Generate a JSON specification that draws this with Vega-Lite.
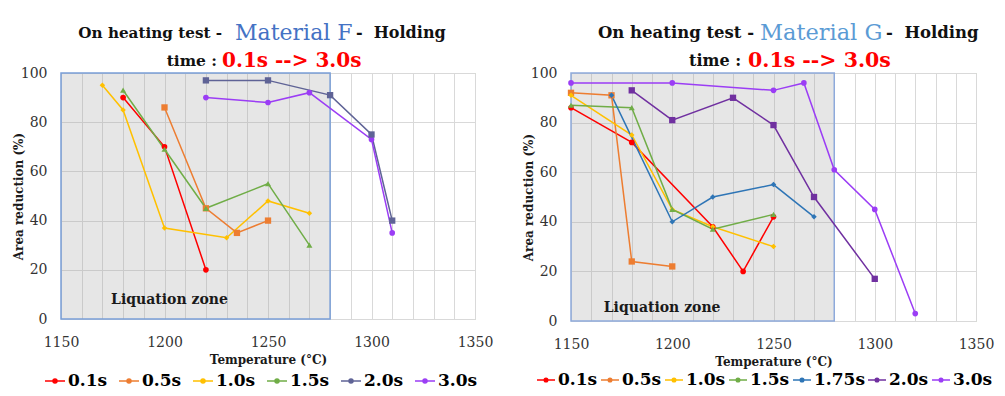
{
  "$schema": "https://vega.github.io/schema/vega-lite/v6.json",
  "background": "white",
  "padding": {"left": 11, "top": 21, "right": 0, "bottom": 0},
  "spacing": 96,
  "bounds": "flush",
  "config": {
    "font": "DejaVu Serif",
    "view": {"stroke": "#C5DEB5", "strokeWidth": 1},
    "axis": {"gridColor": "#D9D9D9", "gridWidth": 1, "domain": false, "ticks": false, "labelOverlap": false, "labelFlush": false, "labelFont": "DejaVu Serif", "labelFontSize": 14, "labelColor": "#333333", "titleFont": "DejaVu Serif", "titleFontSize": 12, "titleFontWeight": "bold", "titleColor": "#1a1a1a"},
    "legend": {"orient": "none", "direction": "horizontal", "title": null, "symbolSize": 400, "symbolStrokeWidth": 1.5, "labelFont": "DejaVu Serif", "labelFontSize": 17, "labelFontWeight": "bold", "labelColor": "black", "labelOffset": 2, "columnPadding": 8}
  },
  "datasets": {
    "F": [
      {"t": 1180, "ar": 90, "hold": "0.1s"}, {"t": 1200, "ar": 70, "hold": "0.1s"}, {"t": 1220, "ar": 20, "hold": "0.1s"},
      {"t": 1200, "ar": 86, "hold": "0.5s"}, {"t": 1220, "ar": 45, "hold": "0.5s"}, {"t": 1235, "ar": 35, "hold": "0.5s"}, {"t": 1250, "ar": 40, "hold": "0.5s"},
      {"t": 1170, "ar": 95, "hold": "1.0s"}, {"t": 1180, "ar": 85, "hold": "1.0s"}, {"t": 1200, "ar": 37, "hold": "1.0s"}, {"t": 1230, "ar": 33, "hold": "1.0s"}, {"t": 1250, "ar": 48, "hold": "1.0s"}, {"t": 1270, "ar": 43, "hold": "1.0s"},
      {"t": 1180, "ar": 93, "hold": "1.5s"}, {"t": 1200, "ar": 69, "hold": "1.5s"}, {"t": 1220, "ar": 45, "hold": "1.5s"}, {"t": 1250, "ar": 55, "hold": "1.5s"}, {"t": 1270, "ar": 30, "hold": "1.5s"},
      {"t": 1220, "ar": 97, "hold": "2.0s"}, {"t": 1250, "ar": 97, "hold": "2.0s"}, {"t": 1280, "ar": 91, "hold": "2.0s"}, {"t": 1300, "ar": 75, "hold": "2.0s"}, {"t": 1310, "ar": 40, "hold": "2.0s"},
      {"t": 1220, "ar": 90, "hold": "3.0s"}, {"t": 1250, "ar": 88, "hold": "3.0s"}, {"t": 1270, "ar": 92, "hold": "3.0s"}, {"t": 1300, "ar": 73, "hold": "3.0s"}, {"t": 1310, "ar": 35, "hold": "3.0s"}
    ],
    "G": [
      {"t": 1150, "ar": 86, "hold": "0.1s"}, {"t": 1180, "ar": 72, "hold": "0.1s"}, {"t": 1220, "ar": 38, "hold": "0.1s"}, {"t": 1235, "ar": 20, "hold": "0.1s"}, {"t": 1250, "ar": 42, "hold": "0.1s"},
      {"t": 1150, "ar": 92, "hold": "0.5s"}, {"t": 1170, "ar": 91, "hold": "0.5s"}, {"t": 1180, "ar": 24, "hold": "0.5s"}, {"t": 1200, "ar": 22, "hold": "0.5s"},
      {"t": 1150, "ar": 91, "hold": "1.0s"}, {"t": 1180, "ar": 75, "hold": "1.0s"}, {"t": 1200, "ar": 45, "hold": "1.0s"}, {"t": 1220, "ar": 38, "hold": "1.0s"}, {"t": 1250, "ar": 30, "hold": "1.0s"},
      {"t": 1150, "ar": 87, "hold": "1.5s"}, {"t": 1180, "ar": 86, "hold": "1.5s"}, {"t": 1200, "ar": 45, "hold": "1.5s"}, {"t": 1220, "ar": 37, "hold": "1.5s"}, {"t": 1250, "ar": 43, "hold": "1.5s"},
      {"t": 1170, "ar": 91, "hold": "1.75s"}, {"t": 1200, "ar": 40, "hold": "1.75s"}, {"t": 1220, "ar": 50, "hold": "1.75s"}, {"t": 1250, "ar": 55, "hold": "1.75s"}, {"t": 1270, "ar": 42, "hold": "1.75s"},
      {"t": 1180, "ar": 93, "hold": "2.0s"}, {"t": 1200, "ar": 81, "hold": "2.0s"}, {"t": 1230, "ar": 90, "hold": "2.0s"}, {"t": 1250, "ar": 79, "hold": "2.0s"}, {"t": 1270, "ar": 50, "hold": "2.0s"}, {"t": 1300, "ar": 17, "hold": "2.0s"},
      {"t": 1150, "ar": 96, "hold": "3.0s"}, {"t": 1200, "ar": 96, "hold": "3.0s"}, {"t": 1250, "ar": 93, "hold": "3.0s"}, {"t": 1265, "ar": 96, "hold": "3.0s"}, {"t": 1280, "ar": 61, "hold": "3.0s"}, {"t": 1300, "ar": 45, "hold": "3.0s"}, {"t": 1320, "ar": 3, "hold": "3.0s"}
    ]
  },
  "hconcat": [
    {
      "width": 414,
      "height": 246,
      "data": {"name": "F"},
      "resolve": {"axis": {"x": "independent"}},
      "layer": [
        {
          "data": {"values": [{}]},
          "mark": {"type": "rect", "fill": "#A6A6A6", "fillOpacity": 0.28, "stroke": "#7A9FD8", "strokeWidth": 1.5, "strokeOpacity": 1},
          "encoding": {
            "x": {"datum": 1150, "type": "quantitative", "axis": {"orient": "bottom", "values": [1150,1160,1170,1180,1190,1200,1210,1220,1230,1240,1250,1260,1270,1280,1290,1300,1310,1320,1330,1340,1350], "labels": false, "grid": true, "title": null}},
            "x2": {"datum": 1280},
            "y": {"datum": 0, "type": "quantitative"},
            "y2": {"datum": 100}
          }
        },
        {
          "mark": {"type": "line", "strokeWidth": 1.5},
          "encoding": {
            "x": {"field": "t", "type": "quantitative", "title": "Temperature (°C)", "scale": {"domain": [1150, 1350], "nice": false, "zero": false}, "axis": {"orient": "bottom", "grid": false, "values": [1150, 1200, 1250, 1300, 1350], "format": "d", "labelPadding": 16, "titlePadding": 5}},
            "y": {"field": "ar", "type": "quantitative", "title": "Area reduction (%)", "scale": {"domain": [0, 100], "nice": false}, "axis": {"grid": true, "values": [0,10,20,30,40,50,60,70,80,90,100], "labelExpr": "datum.value % 20 === 0 ? datum.label : ''", "labelPadding": 14, "titlePadding": -5}},
            "color": {
              "field": "hold", "type": "nominal",
              "scale": {"domain": ["0.1s", "0.5s", "1.0s", "1.5s", "2.0s", "3.0s"], "range": ["#FF0000", "#ED7D31", "#FFC000", "#70AD47", "#5F6396", "#9B3DF5"]},
              "legend": {"legendX": -17, "legendY": 297, "symbolType": "M-1,0H1M0.2,0A0.2,0.2 0 1 1 -0.2,0A0.2,0.2 0 1 1 0.2,0Z"}
            }
          }
        },
        {
          "transform": [{"filter": "datum.hold === '0.1s' || datum.hold === '3.0s'"}],
          "mark": {"type": "point", "filled": true, "opacity": 1, "size": 32, "shape": "circle"},
          "encoding": {"x": {"field": "t", "type": "quantitative", "axis": null}, "y": {"field": "ar", "type": "quantitative"}, "color": {"field": "hold", "type": "nominal", "legend": null}}
        },
        {
          "transform": [{"filter": "datum.hold === '0.5s' || datum.hold === '2.0s'"}],
          "mark": {"type": "point", "filled": true, "opacity": 1, "size": 40, "shape": "square"},
          "encoding": {"x": {"field": "t", "type": "quantitative", "axis": null}, "y": {"field": "ar", "type": "quantitative"}, "color": {"field": "hold", "type": "nominal", "legend": null}}
        },
        {
          "transform": [{"filter": "datum.hold === '1.0s'"}],
          "mark": {"type": "point", "filled": true, "opacity": 1, "size": 30, "shape": "diamond"},
          "encoding": {"x": {"field": "t", "type": "quantitative", "axis": null}, "y": {"field": "ar", "type": "quantitative"}, "color": {"field": "hold", "type": "nominal", "legend": null}}
        },
        {
          "transform": [{"filter": "datum.hold === '1.5s'"}],
          "mark": {"type": "point", "filled": true, "opacity": 1, "size": 36, "shape": "triangle-up"},
          "encoding": {"x": {"field": "t", "type": "quantitative", "axis": null}, "y": {"field": "ar", "type": "quantitative"}, "color": {"field": "hold", "type": "nominal", "legend": null}}
        },
        {
          "data": {"values": [{}]},
          "mark": {"type": "text", "text": "Liquation zone", "fontSize": 14, "fontWeight": "bold", "color": "#1a1a1a", "align": "center", "baseline": "middle"},
          "encoding": {"x": {"datum": 1202.4, "type": "quantitative", "axis": null}, "y": {"datum": 7.7, "type": "quantitative"}}
        },
        {
          "data": {"values": [{}]},
          "mark": {"type": "text", "text": "On heating test -", "fontSize": 15.2, "fontWeight": "bold", "color": "#111111", "align": "right", "baseline": "middle"},
          "encoding": {"x": {"datum": 1227.8, "type": "quantitative", "axis": null}, "y": {"datum": 116.3, "type": "quantitative"}}
        },
        {
          "data": {"values": [{}]},
          "mark": {"type": "text", "text": "Material F", "fontSize": 22, "color": "#4472C4", "align": "left", "baseline": "middle"},
          "encoding": {"x": {"datum": 1234.1, "type": "quantitative", "axis": null}, "y": {"datum": 116.3, "type": "quantitative"}}
        },
        {
          "data": {"values": [{}]},
          "mark": {"type": "text", "text": "-\u00a0 Holding", "fontSize": 16, "fontWeight": "bold", "color": "#111111", "align": "left", "baseline": "middle"},
          "encoding": {"x": {"datum": 1292.5, "type": "quantitative", "axis": null}, "y": {"datum": 116.3, "type": "quantitative"}}
        },
        {
          "data": {"values": [{}]},
          "mark": {"type": "text", "text": "time :", "fontSize": 15.5, "fontWeight": "bold", "color": "#111111", "align": "right", "baseline": "middle"},
          "encoding": {"x": {"datum": 1225.4, "type": "quantitative", "axis": null}, "y": {"datum": 104.9, "type": "quantitative"}}
        },
        {
          "data": {"values": [{}]},
          "mark": {"type": "text", "text": "0.1s --> 3.0s", "fontSize": 20, "fontWeight": "bold", "color": "#FF0000", "align": "left", "baseline": "middle"},
          "encoding": {"x": {"datum": 1227.8, "type": "quantitative", "axis": null}, "y": {"datum": 104.9, "type": "quantitative"}}
        }
      ]
    },
    {
      "width": 405,
      "height": 248,
      "data": {"name": "G"},
      "resolve": {"axis": {"x": "independent"}},
      "layer": [
        {
          "data": {"values": [{}]},
          "mark": {"type": "rect", "fill": "#A6A6A6", "fillOpacity": 0.28, "stroke": "#8EAADB", "strokeWidth": 1.5, "strokeOpacity": 1},
          "encoding": {
            "x": {"datum": 1150, "type": "quantitative", "axis": {"orient": "bottom", "values": [1150,1160,1170,1180,1190,1200,1210,1220,1230,1240,1250,1260,1270,1280,1290,1300,1310,1320,1330,1340,1350], "labels": false, "grid": true, "title": null}},
            "x2": {"datum": 1280},
            "y": {"datum": 0, "type": "quantitative"},
            "y2": {"datum": 100}
          }
        },
        {
          "mark": {"type": "line", "strokeWidth": 1.5},
          "encoding": {
            "x": {"field": "t", "type": "quantitative", "title": "Temperature (°C)", "scale": {"domain": [1150, 1350], "nice": false, "zero": false}, "axis": {"orient": "bottom", "grid": false, "values": [1150, 1200, 1250, 1300, 1350], "format": "d", "labelPadding": 16, "titlePadding": 5}},
            "y": {"field": "ar", "type": "quantitative", "title": "Area reduction (%)", "scale": {"domain": [0, 100], "nice": false}, "axis": {"grid": true, "values": [0,10,20,30,40,50,60,70,80,90,100], "labelExpr": "datum.value % 20 === 0 ? datum.label : ''", "labelPadding": 14, "titlePadding": -5}},
            "color": {
              "field": "hold", "type": "nominal",
              "scale": {"domain": ["0.1s", "0.5s", "1.0s", "1.5s", "1.75s", "2.0s", "3.0s"], "range": ["#FF0000", "#ED7D31", "#FFC000", "#70AD47", "#2E75B6", "#7030A0", "#9B3DF5"]},
              "legend": {"legendX": -35, "legendY": 297, "columnPadding": 0, "symbolSize": 324, "symbolType": "M-1,0H1M0.2,0A0.2,0.2 0 1 1 -0.2,0A0.2,0.2 0 1 1 0.2,0Z"}
            }
          }
        },
        {
          "transform": [{"filter": "datum.hold === '0.1s' || datum.hold === '3.0s'"}],
          "mark": {"type": "point", "filled": true, "opacity": 1, "size": 32, "shape": "circle"},
          "encoding": {"x": {"field": "t", "type": "quantitative", "axis": null}, "y": {"field": "ar", "type": "quantitative"}, "color": {"field": "hold", "type": "nominal", "legend": null}}
        },
        {
          "transform": [{"filter": "datum.hold === '0.5s' || datum.hold === '2.0s'"}],
          "mark": {"type": "point", "filled": true, "opacity": 1, "size": 40, "shape": "square"},
          "encoding": {"x": {"field": "t", "type": "quantitative", "axis": null}, "y": {"field": "ar", "type": "quantitative"}, "color": {"field": "hold", "type": "nominal", "legend": null}}
        },
        {
          "transform": [{"filter": "datum.hold === '1.0s' || datum.hold === '1.75s'"}],
          "mark": {"type": "point", "filled": true, "opacity": 1, "size": 30, "shape": "diamond"},
          "encoding": {"x": {"field": "t", "type": "quantitative", "axis": null}, "y": {"field": "ar", "type": "quantitative"}, "color": {"field": "hold", "type": "nominal", "legend": null}}
        },
        {
          "transform": [{"filter": "datum.hold === '1.5s'"}],
          "mark": {"type": "point", "filled": true, "opacity": 1, "size": 36, "shape": "triangle-up"},
          "encoding": {"x": {"field": "t", "type": "quantitative", "axis": null}, "y": {"field": "ar", "type": "quantitative"}, "color": {"field": "hold", "type": "nominal", "legend": null}}
        },
        {
          "data": {"values": [{}]},
          "mark": {"type": "text", "text": "Liquation zone", "fontSize": 14, "fontWeight": "bold", "color": "#1a1a1a", "align": "center", "baseline": "middle"},
          "encoding": {"x": {"datum": 1195, "type": "quantitative", "axis": null}, "y": {"datum": 5.4, "type": "quantitative"}}
        },
        {
          "data": {"values": [{}]},
          "mark": {"type": "text", "text": "On heating test -", "fontSize": 16.5, "fontWeight": "bold", "color": "#111111", "align": "right", "baseline": "middle"},
          "encoding": {"x": {"datum": 1240.4, "type": "quantitative", "axis": null}, "y": {"datum": 116.2, "type": "quantitative"}}
        },
        {
          "data": {"values": [{}]},
          "mark": {"type": "text", "text": "Material G", "fontSize": 22.5, "color": "#5B9BD5", "align": "left", "baseline": "middle"},
          "encoding": {"x": {"datum": 1243.3, "type": "quantitative", "axis": null}, "y": {"datum": 116.2, "type": "quantitative"}}
        },
        {
          "data": {"values": [{}]},
          "mark": {"type": "text", "text": "-\u00a0 Holding", "fontSize": 16.5, "fontWeight": "bold", "color": "#111111", "align": "left", "baseline": "middle"},
          "encoding": {"x": {"datum": 1305.6, "type": "quantitative", "axis": null}, "y": {"datum": 116.2, "type": "quantitative"}}
        },
        {
          "data": {"values": [{}]},
          "mark": {"type": "text", "text": "time :", "fontSize": 16, "fontWeight": "bold", "color": "#111111", "align": "right", "baseline": "middle"},
          "encoding": {"x": {"datum": 1234, "type": "quantitative", "axis": null}, "y": {"datum": 104.7, "type": "quantitative"}}
        },
        {
          "data": {"values": [{}]},
          "mark": {"type": "text", "text": "0.1s --> 3.0s", "fontSize": 20.5, "fontWeight": "bold", "color": "#FF0000", "align": "left", "baseline": "middle"},
          "encoding": {"x": {"datum": 1237.4, "type": "quantitative", "axis": null}, "y": {"datum": 104.7, "type": "quantitative"}}
        }
      ]
    }
  ],
  "resolve": {"scale": {"color": "independent", "x": "independent", "y": "independent"}, "legend": {"color": "independent"}}
}
